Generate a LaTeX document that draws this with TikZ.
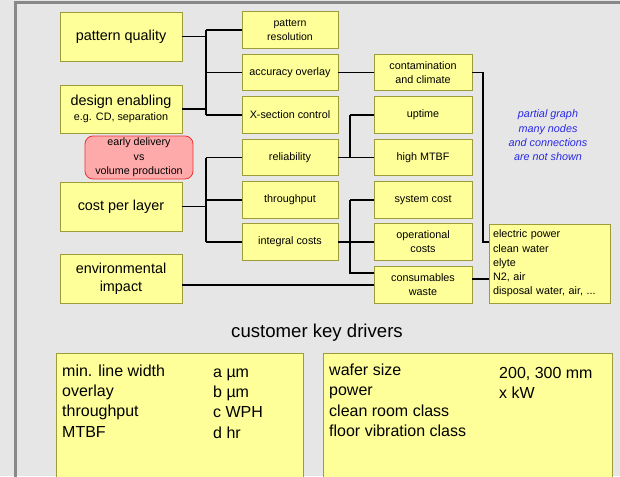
\documentclass[tikz,border=0pt]{standalone}
\usepackage{fontspec}
\setmainfont{Liberation Sans}
\definecolor{bg}{HTML}{E6E6E6}
\definecolor{frame}{HTML}{888888}
\definecolor{boxfill}{HTML}{FFFF99}
\definecolor{boxedge}{HTML}{9C9C3A}
\definecolor{redfill}{HTML}{FFAAAA}
\definecolor{rededge}{HTML}{F03030}
\definecolor{noteblue}{HTML}{2828E6}
\begin{document}
\begin{tikzpicture}[x=1pt,y=-1pt,
  ybox/.style={draw=boxedge, fill=boxfill, line width=0.8pt, inner sep=0pt, align=center},
  bigbox/.style={ybox, minimum width=122pt, minimum height=49pt, font=\fontsize{14.4}{18}\selectfont},
  midbox/.style={ybox, minimum width=96pt, minimum height=36.5pt, font=\fontsize{10.8}{14}\selectfont},
  thrbox/.style={ybox, minimum width=98pt, minimum height=36.5pt, font=\fontsize{10.8}{14}\selectfont},
  conn/.style={line width=1.6pt, black},
  ltext/.style={anchor=base west, inner sep=0pt, font=\fontsize{16}{20}\selectfont}
]
\useasboundingbox (0,0) rectangle (620,476);
\clip (0,0) rectangle (620,476);
\fill[bg] (0,0) rectangle (620,476);
\draw[frame, line width=3pt] (15,700) -- (15,3) -- (800,3);

% left column
\node[bigbox] (pq) at (121,36.5) {pattern quality};
\node[bigbox, minimum height=48pt] (de) at (121,109) {design enabling\\[-3pt]{\fontsize{10.8}{13}\selectfont e.g. CD, separation}};
\node[draw=rededge, fill=redfill, line width=0.8pt, rounded corners=8pt, inner sep=0pt,
      minimum width=108pt, minimum height=43pt, align=center,
      font=\fontsize{10.7}{14.5}\selectfont] (ed) at (139,157.5) {early delivery\\vs\\volume production};
\node[bigbox] (cpl) at (121,206.5) {cost per layer};
\node[bigbox] (env) at (121,278.5) {environmental\\impact};

% middle column
\node[midbox, font=\fontsize{10.5}{13.5}\selectfont] (pr) at (290,30) {pattern\\resolution};
\node[midbox] (ao) at (290,72.5) {accuracy overlay};
\node[midbox] (xs) at (290,115) {X-section control};
\node[midbox] (rel) at (290,157.5) {reliability};
\node[midbox] (thr) at (290,200) {throughput};
\node[midbox] (ic) at (290,242) {integral costs};

% third column
\node[thrbox] (cc) at (423,72.5) {contamination\\and climate};
\node[thrbox] (up) at (423,115) {uptime};
\node[thrbox] (mtbf) at (423,157.5) {high MTBF};
\node[thrbox] (sc) at (423,200) {system cost};
\node[thrbox] (oc) at (423,242) {operational\\costs};
\node[thrbox] (cw) at (423,285) {consumables\\waste};

% right box
\node[ybox, minimum width=121pt, minimum height=79pt, align=left, text width=113pt,
      font=\fontsize{10.8}{14.2}\selectfont] (rb) at (549.5,263.5)
  {electric power\\clean water\\elyte\\N2, air\\disposal water, air, ...};

% note
\node[align=center, text=noteblue, font=\fontsize{10.8}{14.4}\selectfont\itshape] (note) at (548,135.5)
  {partial graph\\many nodes\\and connections\\are not shown};

% bus coordinates
\coordinate (b1) at (206,0);
\coordinate (b3) at (350,0);
\coordinate (b5) at (483,242);

% connectors
\draw[conn] (pq.east) -- (pq.east -| b1);
\draw[conn] (de.east) -- (de.east -| b1);
\draw[conn] (pr.west -| b1) -- (xs.west -| b1);
\draw[conn] (pr.west -| b1) -- (pr.west);
\draw[conn] (ao.west -| b1) -- (ao.west);
\draw[conn] (xs.west -| b1) -- (xs.west);

\draw[conn] (cpl.east) -- (cpl.east -| b1);
\draw[conn] (rel.west -| b1) -- (ic.west -| b1);
\draw[conn] (rel.west -| b1) -- (rel.west);
\draw[conn] (thr.west -| b1) -- (thr.west);
\draw[conn] (ic.west -| b1) -- (ic.west);

\draw[conn] (ao.east) -- (cc.west);

\draw[conn] (rel.east) -- (rel.east -| b3);
\draw[conn] (up.west -| b3) -- (mtbf.west -| b3);
\draw[conn] (up.west -| b3) -- (up.west);
\draw[conn] (mtbf.west -| b3) -- (mtbf.west);

\draw[conn] (ic.east) -- (ic.east -| b3);
\draw[conn] (sc.west -| b3) -- ([yshift=12pt]cw.west -| b3) -- ([yshift=12pt]cw.west);
\draw[conn] (sc.west -| b3) -- (sc.west);
\draw[conn] (oc.west -| b3) -- (oc.west);

\draw[conn] (env.east |- cw.west) -- (cw.west);
\draw[conn] ([yshift=6pt]cw.east) -- ([yshift=6pt]cw.east -| rb.west);
\draw[conn] (cc.east) -| (b5) -- (b5 -| rb.west);

% customer key drivers
\node[font=\fontsize{18.6}{22}\selectfont] (ckd) at (317,333) {customer key drivers};

\node[ybox, anchor=north west, minimum width=247pt, minimum height=140pt] (lb) at (56,353) {};
\node[ybox, anchor=north west, minimum width=289pt, minimum height=140pt] (rbx) at (323,353) {};

\node[ltext] (l1) at (62,376) {min. line width};
\node[ltext] (l2) at (62,396.3) {overlay};
\node[ltext] (l3) at (62,416.6) {throughput};
\node[ltext] (l4) at (62,437) {MTBF};
\node[ltext] (v1) at (213,377) {a µm};
\node[ltext] (v2) at (213,397.3) {b µm};
\node[ltext] (v3) at (213,417.6) {c WPH};
\node[ltext] (v4) at (213,438) {d hr};

\node[ltext] (r1) at (329,375.5) {wafer size};
\node[ltext] (r2) at (329,395.8) {power};
\node[ltext] (r3) at (329,416.1) {clean room class};
\node[ltext] (r4) at (329,436.5) {floor vibration class};
\node[ltext] (s1) at (499,378.5) {200, 300 mm};
\node[ltext] (s2) at (499,398.8) {x kW};
\end{tikzpicture}
\end{document}
